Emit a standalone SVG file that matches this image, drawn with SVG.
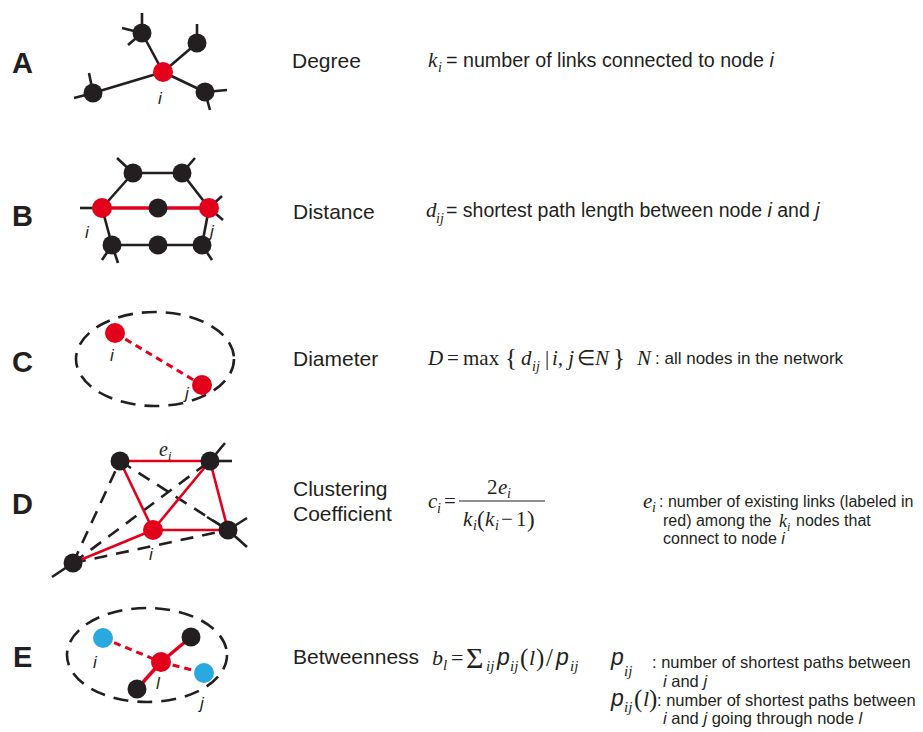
<svg xmlns="http://www.w3.org/2000/svg" width="923" height="732" viewBox="0 0 923 732">
<style>
.bg{fill:#ffffff}
.lbl{font-family:"Liberation Sans",Arial,sans-serif;font-weight:bold;font-size:29px;fill:#231f20}
.name{font-family:"Liberation Sans",Arial,sans-serif;font-size:21px;fill:#231f20}
.txt{font-family:"Liberation Sans",Arial,sans-serif;fill:#231f20}
.pp{font-family:"Liberation Sans",Arial,sans-serif;font-style:italic;fill:#231f20}
.m{font-family:"Liberation Serif","Times New Roman",serif;fill:#231f20}
.mi{font-family:"Liberation Serif","Times New Roman",serif;font-style:italic;fill:#231f20}
.nl{font-family:"Liberation Sans",Arial,sans-serif;font-style:italic;font-size:17px;fill:#231f20}
.it{font-style:italic}
.e{stroke:#231f20;stroke-width:2.6;fill:none;stroke-linecap:butt}
.er{stroke:#e2001a;stroke-width:2.6;fill:none}
.erb{stroke:#e2001a;stroke-width:3.4;fill:none}
.ed{stroke:#231f20;stroke-width:2.6;fill:none;stroke-dasharray:13 9}
.erd{stroke:#e2001a;stroke-width:3;fill:none;stroke-dasharray:7 5}
.ell{stroke:#231f20;stroke-width:2.6;fill:none;stroke-dasharray:15 9}
.nb{fill:#231f20}
.nr{fill:#e2001a}
.nc{fill:#29a9e0}
.frac{stroke:#231f20;stroke-width:1.1}
</style>
<rect class="bg" x="0" y="0" width="923" height="732"/>

<!-- Panel letters -->
<g id="panel-labels">
<text class="lbl" x="12" y="73">A</text>
<text class="lbl" x="12" y="226">B</text>
<text class="lbl" x="12" y="372">C</text>
<text class="lbl" x="12" y="514">D</text>
<text class="lbl" x="13" y="667">E</text>
</g>

<!-- Connectors -->
<g id="connectors">
<!-- A -->
<line class="e" x1="163" y1="72" x2="142" y2="33"/>
<line class="e" x1="163" y1="72" x2="197" y2="43"/>
<line class="e" x1="163" y1="72" x2="93" y2="93"/>
<line class="e" x1="163" y1="72" x2="205" y2="92"/>
<line class="e" x1="142" y1="33" x2="142" y2="13"/>
<line class="e" x1="142" y1="33" x2="122" y2="28"/>
<line class="e" x1="142" y1="33" x2="128" y2="45"/>
<line class="e" x1="197" y1="43" x2="197" y2="24"/>
<line class="e" x1="93" y1="93" x2="89" y2="73"/>
<line class="e" x1="93" y1="93" x2="74" y2="98"/>
<line class="e" x1="205" y1="92" x2="227" y2="90"/>
<line class="e" x1="205" y1="92" x2="210" y2="110"/>
<!-- B -->
<line class="e" x1="102" y1="208" x2="133" y2="173"/>
<line class="e" x1="133" y1="173" x2="182" y2="173"/>
<line class="e" x1="182" y1="173" x2="209" y2="208"/>
<line class="e" x1="102" y1="208" x2="112" y2="245"/>
<line class="e" x1="112" y1="245" x2="202" y2="245"/>
<line class="e" x1="202" y1="245" x2="209" y2="208"/>
<line class="e" x1="102" y1="208" x2="80" y2="208"/>
<line class="e" x1="133" y1="173" x2="117" y2="158"/>
<line class="e" x1="182" y1="173" x2="195" y2="158"/>
<line class="e" x1="209" y1="208" x2="222" y2="196"/>
<line class="e" x1="209" y1="208" x2="223" y2="220"/>
<line class="e" x1="112" y1="245" x2="102" y2="260"/>
<line class="e" x1="112" y1="245" x2="118" y2="263"/>
<line class="e" x1="202" y1="245" x2="212" y2="260"/>
<line class="erb" x1="102" y1="208" x2="209" y2="208"/>
<!-- C -->
<ellipse class="ell" cx="155" cy="359" rx="79" ry="47"/>
<line class="erd" x1="115" y1="333" x2="202" y2="385"/>
<!-- D -->
<line class="ed" x1="73" y1="563" x2="120" y2="461"/>
<line class="ed" x1="73" y1="563" x2="210" y2="461"/>
<line class="ed" x1="73" y1="563" x2="228" y2="530"/>
<line class="ed" x1="120" y1="461" x2="228" y2="530"/>
<line class="er" x1="120" y1="461" x2="210" y2="461"/>
<line class="er" x1="120" y1="461" x2="153" y2="530"/>
<line class="er" x1="153" y1="530" x2="210" y2="461"/>
<line class="er" x1="210" y1="461" x2="228" y2="530"/>
<line class="er" x1="153" y1="530" x2="228" y2="530"/>
<line class="er" x1="153" y1="530" x2="73" y2="563"/>
<line class="e" x1="210" y1="461" x2="225" y2="443"/>
<line class="e" x1="210" y1="461" x2="232" y2="461"/>
<line class="e" x1="228" y1="530" x2="207" y2="517"/>
<line class="e" x1="228" y1="530" x2="247" y2="518"/>
<line class="e" x1="228" y1="530" x2="247" y2="547"/>
<line class="e" x1="73" y1="563" x2="52" y2="577"/>
<!-- E -->
<ellipse class="ell" cx="147" cy="655" rx="80" ry="47"/>
<line class="erd" x1="103" y1="638" x2="161" y2="662"/>
<line class="erd" x1="161" y1="662" x2="204" y2="673"/>
<line class="erb" x1="161" y1="662" x2="191" y2="637"/>
<line class="erb" x1="161" y1="662" x2="137" y2="689"/>
</g>

<!-- Panel A nodes -->
<g id="nodeA-1"><circle class="nb" cx="142" cy="33" r="9.5"/></g>
<g id="nodeA-2"><circle class="nb" cx="197" cy="43" r="9.5"/></g>
<g id="nodeA-3"><circle class="nb" cx="93" cy="93" r="9.5"/></g>
<g id="nodeA-4"><circle class="nb" cx="205" cy="92" r="9.5"/></g>
<g id="nodeA-i"><circle class="nr" cx="163" cy="72" r="10"/><text class="nl" x="158" y="104">i</text></g>

<!-- Panel B nodes -->
<g id="nodeB-i"><circle class="nr" cx="102" cy="208" r="10"/><text class="nl" x="85" y="238">i</text></g>
<g id="nodeB-m"><circle class="nb" cx="158" cy="208" r="9.5"/></g>
<g id="nodeB-j"><circle class="nr" cx="209" cy="208" r="10"/><text class="nl" x="210" y="237">j</text></g>
<g id="nodeB-t1"><circle class="nb" cx="133" cy="173" r="9.5"/></g>
<g id="nodeB-t2"><circle class="nb" cx="182" cy="173" r="9.5"/></g>
<g id="nodeB-b1"><circle class="nb" cx="112" cy="245" r="9.5"/></g>
<g id="nodeB-b2"><circle class="nb" cx="158" cy="245" r="9.5"/></g>
<g id="nodeB-b3"><circle class="nb" cx="202" cy="245" r="9.5"/></g>

<!-- Panel C nodes -->
<g id="nodeC-i"><circle class="nr" cx="115" cy="333" r="10"/><text class="nl" x="110" y="361">i</text></g>
<g id="nodeC-j"><circle class="nr" cx="202" cy="385" r="10"/><text class="nl" x="185" y="399">j</text></g>

<!-- Panel D nodes -->
<g id="nodeD-tl"><circle class="nb" cx="120" cy="461" r="9.5"/></g>
<g id="nodeD-tr"><circle class="nb" cx="210" cy="461" r="9.5"/></g>
<g id="nodeD-r"><circle class="nb" cx="228" cy="530" r="9.5"/></g>
<g id="nodeD-bl"><circle class="nb" cx="73" cy="563" r="9.5"/></g>
<g id="nodeD-i"><circle class="nr" cx="153" cy="530" r="10"/><text class="nl" x="149" y="560">i</text></g>
<g id="labelD-e"><text class="mi" x="159" y="456" font-size="20">e</text><text class="mi" x="168" y="460" font-size="13">i</text></g>

<!-- Panel E nodes -->
<g id="nodeE-i"><circle class="nc" cx="103" cy="638" r="10"/><text class="nl" x="93" y="668">i</text></g>
<g id="nodeE-tr"><circle class="nb" cx="191" cy="637" r="9.5"/></g>
<g id="nodeE-b"><circle class="nb" cx="137" cy="689" r="9.5"/></g>
<g id="nodeE-l"><circle class="nr" cx="161" cy="662" r="10"/><text class="nl" x="156" y="689">l</text></g>
<g id="nodeE-j"><circle class="nc" cx="204" cy="673" r="10"/><text class="nl" x="200" y="709">j</text></g>

<!-- Row A text -->
<g id="textA">
<text class="name" x="292" y="68" font-size="19">Degree</text>
<text class="mi" x="428" y="67" font-size="21">k</text>
<text class="mi" x="438" y="72" font-size="14">i</text>
<text class="txt" x="446" y="67" font-size="19.7">= number of links connected to node <tspan class="it">i</tspan></text>
</g>

<!-- Row B text -->
<g id="textB">
<text class="name" x="293" y="219">Distance</text>
<text class="mi" x="426" y="217" font-size="21">d</text>
<text class="mi" x="436" y="223" font-size="14">ij</text>
<text class="txt" x="446" y="217" font-size="19.5">= shortest path length between node <tspan class="it">i</tspan> and <tspan class="it">j</tspan></text>
</g>

<!-- Row C text -->
<g id="textC">
<text class="name" x="293" y="366">Diameter</text>
<text class="mi" x="428" y="365" font-size="21">D</text>
<text class="m" x="447" y="365" font-size="21">=</text>
<text class="m" x="463" y="365" font-size="21">max</text>
<text class="m" x="505" y="366" font-size="25">{</text>
<text class="mi" x="521" y="365" font-size="21">d</text>
<text class="mi" x="532" y="371" font-size="14">ij</text>
<text class="m" x="545" y="365" font-size="21">|</text>
<text class="mi" x="552" y="365" font-size="21">i, j</text>
<text class="m" x="577" y="365" font-size="21">∈</text>
<text class="mi" x="595" y="365" font-size="21">N</text>
<text class="m" x="613" y="366" font-size="25">}</text>
<text class="mi" x="637" y="365" font-size="21">N</text>
<text class="txt" x="655" y="364" font-size="17">: all nodes in the network</text>
</g>

<!-- Row D text -->
<g id="textD">
<text class="name" x="293" y="496">Clustering</text>
<text class="name" x="293" y="521">Coefficient</text>
<text class="mi" x="428" y="508" font-size="21">c</text>
<text class="mi" x="437" y="513" font-size="14">i</text>
<text class="m" x="444" y="508" font-size="21">=</text>
<text class="m" x="487" y="494" font-size="21">2</text>
<text class="mi" x="498" y="494" font-size="21">e</text>
<text class="mi" x="507" y="498" font-size="14">i</text>
<line class="frac" x1="459" y1="501" x2="545" y2="501"/>
<text class="mi" x="463" y="526" font-size="21">k</text>
<text class="mi" x="473" y="530" font-size="14">i</text>
<text class="m" x="477" y="527" font-size="23">(</text>
<text class="mi" x="485" y="526" font-size="21">k</text>
<text class="mi" x="495" y="530" font-size="14">i</text>
<text class="m" x="501" y="526" font-size="21">−</text>
<text class="m" x="516" y="526" font-size="21">1</text>
<text class="m" x="527" y="527" font-size="23">)</text>
<text class="mi" x="643" y="508" font-size="21">e</text>
<text class="mi" x="652" y="512" font-size="14">i</text>
<text class="txt" x="659" y="507" font-size="16">: number of existing links (labeled in</text>
<text class="txt" x="663" y="526" font-size="16">red) among the</text>
<text class="mi" x="779" y="527" font-size="18">k</text>
<text class="mi" x="787" y="531" font-size="12">i</text>
<text class="txt" x="796" y="526" font-size="16">nodes that</text>
<text class="txt" x="663" y="544" font-size="16">connect to node <tspan class="it">i</tspan></text>
</g>

<!-- Row E text -->
<g id="textE">
<text class="name" x="293" y="664">Betweenness</text>
<text class="mi" x="432" y="665" font-size="22">b</text>
<text class="mi" x="443" y="670" font-size="15">l</text>
<text class="m" x="451" y="665" font-size="22">=</text>
<text class="m" x="466" y="668" font-size="30">Σ</text>
<text class="mi" x="486" y="671" font-size="15">ij</text>
<text class="pp" x="497" y="665" font-size="23">p</text>
<text class="mi" x="510" y="671" font-size="15">ij</text>
<text class="m" x="520" y="666" font-size="25">(</text>
<text class="mi" x="529" y="665" font-size="22">l</text>
<text class="m" x="536" y="666" font-size="25">)</text>
<text class="m" x="546" y="666" font-size="25">/</text>
<text class="pp" x="556" y="665" font-size="23">p</text>
<text class="mi" x="570" y="671" font-size="15">ij</text>
<text class="pp" x="611" y="665" font-size="23">p</text>
<text class="mi" x="624" y="676" font-size="15">ij</text>
<text class="txt" x="652" y="668" font-size="16.5">: number of shortest paths between</text>
<text class="txt" x="663" y="687" font-size="16.5"><tspan class="it">i</tspan> and <tspan class="it">j</tspan></text>
<text class="pp" x="611" y="706" font-size="23">p</text>
<text class="mi" x="624" y="712" font-size="15">ij</text>
<text class="m" x="634" y="707" font-size="25">(</text>
<text class="mi" x="643" y="706" font-size="22">l</text>
<text class="m" x="649" y="707" font-size="25">)</text>
<text class="txt" x="657" y="706" font-size="16.5">: number of shortest paths between</text>
<text class="txt" x="663" y="724" font-size="16.5"><tspan class="it">i</tspan> and <tspan class="it">j</tspan> going through node <tspan class="it">l</tspan></text>
</g>
</svg>
